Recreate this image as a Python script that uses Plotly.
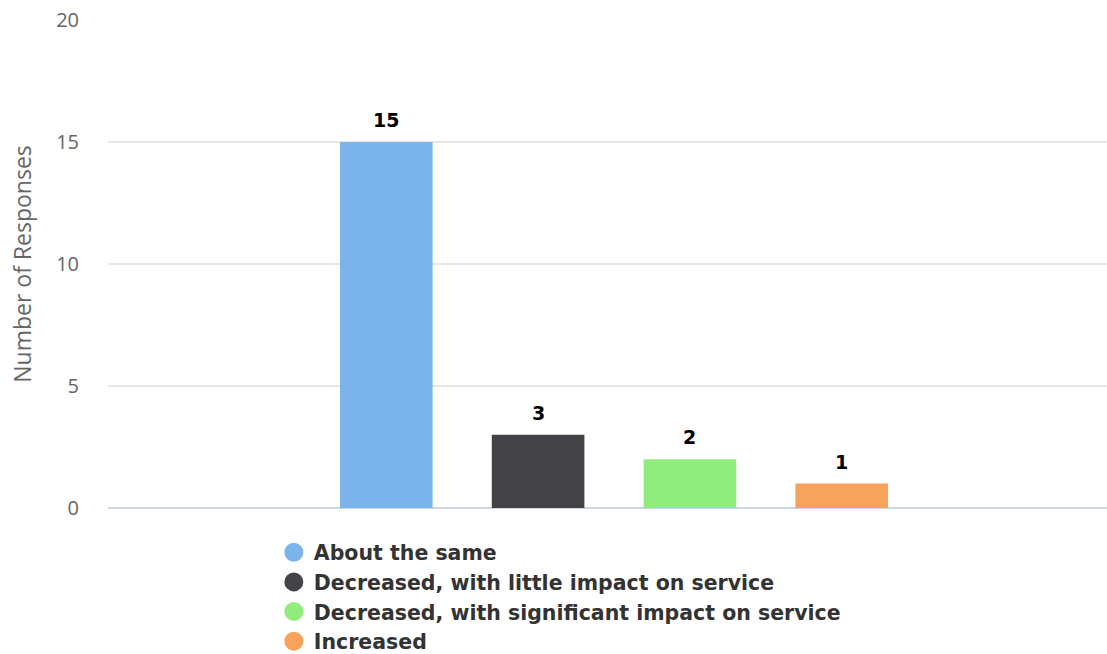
import plotly.graph_objects as go

# Survey responses, one bar per answer
answers = [
    "About the same",
    "Decreased, with little impact on service",
    "Decreased, with significant impact on service",
    "Increased",
]
responses = [15, 3, 2, 1]
colors = ["#7cb5ec", "#434348", "#90ed7d", "#f7a35c"]

y_ticks = [0, 5, 10, 15, 20]

fig = go.Figure()

for name, val, col in zip(answers, responses, colors):
    fig.add_trace(go.Bar(
        x=[0], y=[val], name=name, marker=dict(color=col, line=dict(width=0)),
        showlegend=False, hoverinfo="skip", legendgroup=name, offsetgroup=name,
    ))
    # round legend symbol
    fig.add_trace(go.Scatter(
        x=[None], y=[None], mode="markers", name=name, legendgroup=name,
        marker=dict(symbol="circle", size=16, color=col,
                    line=dict(color=col, width=3)),
    ))

# value labels above each bar, placed at the bar's own centre
n = len(responses)
bargap, groupgap = 0.4, 0.39
slot = (1 - bargap) / n
for i, val in enumerate(responses):
    xc = -0.5 + bargap / 2 + slot * (i + 0.5)
    fig.add_annotation(
        x=xc, y=val, text=f"<b>{val}</b>", showarrow=False,
        yanchor="bottom", yshift=9,
        font=dict(family="DejaVu Sans", size=19, color="#000000"),
    )

fig.update_layout(
    width=1107, height=654,
    margin=dict(l=108, r=0, t=20, b=146, autoexpand=False),
    paper_bgcolor="white", plot_bgcolor="white",
    barmode="group", bargap=bargap, bargroupgap=groupgap,
    showlegend=True,
    legend=dict(
        orientation="v", x=0.166, xanchor="left", y=-0.05, yanchor="top",
        font=dict(family="DejaVu Sans", size=20.5, color="#333333", weight="bold"),
        tracegroupgap=0, itemsizing="trace", bgcolor="rgba(0,0,0,0)",
    ),
    xaxis=dict(
        range=[-0.5, -0.5 + 999 / 1012], showticklabels=False, showgrid=False,
        zeroline=False, showline=False, fixedrange=True,
    ),
    yaxis=dict(
        range=[0, 20], tickvals=y_ticks, showgrid=True, gridcolor="#e6e6e6",
        gridwidth=1.5, zeroline=True, zerolinecolor="#ccd6eb", zerolinewidth=1.5,
        tickfont=dict(family="Open Sans", size=20, color="#666666"),
        ticks="", ticklabelstandoff=28,
        title=dict(text="Number of Responses", standoff=18,
                   font=dict(family="Open Sans", size=23, color="#666666")),
    ),
)

fig.write_html("out.html")
